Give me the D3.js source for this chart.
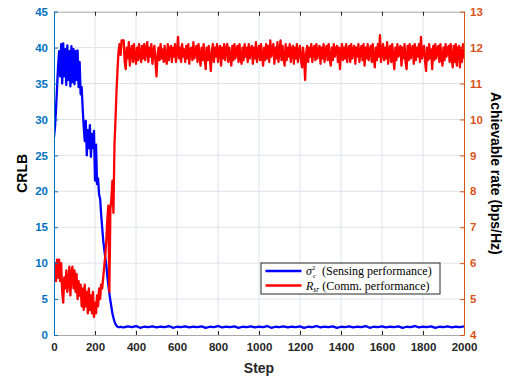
<!DOCTYPE html>
<html>
<head>
<meta charset="utf-8">
<script src="https://cdn.jsdelivr.net/npm/d3@7"></script>
<style>
  body { margin: 0; background: #fff; }
  svg { display: block; }
</style>
</head>
<body>
<div id="chart"></div>
<script>
// early part sampled every 5 steps (0..330)
const stepsEarly = d3.range(0, 331, 5);

// CRLB, left axis
const crlbEarly = [
  27.5, 29.0, 31.5, 34.5, 37.5, 39.5, 36.0, 40.5, 35.0, 40.6,
  36.0, 39.8, 34.8, 40.3, 35.5, 39.5, 34.6, 40.2, 35.2, 39.8,
  34.9, 39.5, 35.5, 39.6, 34.5, 38.0, 33.5, 34.5, 31.5, 29.0,
  27.0, 29.8, 25.0, 28.5, 26.0, 29.2, 24.8, 28.0, 26.0, 28.4,
  21.5, 26.5, 21.0, 21.8, 19.5, 19.0, 16.8, 15.0, 13.2, 12.0,
  10.8, 9.8, 8.2, 7.0, 5.8, 4.8, 3.9, 3.0, 2.4, 1.9,
  1.5, 1.3, 1.15, 1.1, 1.1, 1.15, 1.1
];
// flat part, every 20 steps (340..2000)
const crlbLate = [
  1.05, 1.2, 1.1, 1.25, 1.0, 1.15, 1.1, 1.2, 1.05, 1.15,
  1.1, 1.25, 1.0, 1.15, 1.1, 1.2, 1.05, 1.15, 1.1, 1.2,
  1.0, 1.15, 1.1, 1.25, 1.05, 1.15, 1.1, 1.2, 1.0, 1.15,
  1.1, 1.2, 1.05, 1.15, 1.1, 1.25, 1.0, 1.15, 1.1, 1.2,
  1.05, 1.15, 1.1, 1.2, 1.0, 1.15, 1.1, 1.25, 1.05, 1.15,
  1.1, 1.2, 1.0, 1.15, 1.1, 1.2, 1.05, 1.15, 1.1, 1.25,
  1.0, 1.15, 1.1, 1.2, 1.05, 1.15, 1.1, 1.2, 1.0, 1.15,
  1.1, 1.25, 1.05, 1.15, 1.1, 1.2, 1.0, 1.15, 1.1, 1.2,
  1.05, 1.15, 1.1, 1.2
];

// achievable rate, right axis
const rateEarly = [
  5.6, 6.0, 5.5, 6.1, 5.6, 6.1, 5.5, 6.0, 5.2, 4.9,
  5.6, 5.3, 5.8, 5.2, 5.5, 5.9, 5.1, 5.7, 5.9, 5.3,
  5.8, 5.2, 5.7, 5.0, 5.5, 5.1, 5.4, 4.8, 5.3, 4.7,
  5.4, 4.8, 5.2, 4.6, 5.3, 4.7, 5.1, 4.6, 5.2, 4.5,
  4.9, 4.6, 5.1, 4.8, 5.3, 5.0, 5.4, 5.3, 5.6, 5.9,
  6.2, 6.6, 7.2, 7.6, 5.2, 7.5, 7.8, 8.3, 7.4, 9.3,
  10.0, 10.8, 11.4, 11.9, 12.1, 11.8, 12.2
];
// steady part, every 5 steps (340..2000)
const rateLate = [
  12.2, 11.6, 11.4, 12.0, 11.7, 12.15, 11.5, 11.9, 12.05, 11.6, 12.1, 11.75, 11.55, 12.0, 11.65, 12.1, 11.8, 11.6, 12.05, 11.7,
  12.1, 11.65, 11.95, 12.15, 11.6, 12.0, 11.75, 12.1, 11.55, 11.9, 12.05, 11.6, 11.2, 11.8, 12.0, 11.65, 12.1, 11.7, 11.95, 11.6,
  12.05, 11.7, 11.55, 12.1, 11.65, 11.95, 12.05, 11.6, 12.0, 11.75, 12.1, 11.6, 11.9, 12.3, 11.7, 12.0, 11.6, 12.1, 11.75, 11.95,
  11.6, 12.05, 11.7, 12.1, 11.55, 11.95, 12.0, 11.65, 12.15, 11.7, 11.9, 12.05, 11.6, 12.1, 11.75, 11.5, 12.0, 11.65, 12.1, 11.7,
  11.4, 12.0, 11.65, 12.05, 11.7, 11.35, 11.9, 12.1, 11.6, 12.0, 11.75, 12.1, 11.6, 11.95, 12.05, 11.5, 12.0, 11.7, 12.1, 11.65,
  11.95, 12.1, 11.6, 12.0, 11.75, 11.5, 12.05, 11.65, 12.1, 11.7, 11.9, 12.05, 11.6, 12.1, 11.7, 11.55, 12.0, 11.65, 12.1, 11.75,
  12.0, 11.6, 12.1, 11.7, 11.95, 12.05, 11.55, 12.0, 11.7, 12.15, 11.6, 11.9, 12.05, 11.65, 12.1, 11.75, 11.5, 12.0, 11.65, 12.1,
  11.7, 12.05, 11.6, 12.2, 11.75, 11.95, 12.1, 11.55, 12.0, 11.7, 12.15, 11.6, 11.9, 12.2, 11.65, 12.05, 11.7, 11.5, 12.1, 11.65,
  12.0, 11.75, 12.1, 11.6, 11.95, 12.05, 11.55, 12.0, 11.7, 12.1, 11.6, 11.9, 12.05, 11.65, 11.45, 12.0, 11.7, 11.1, 11.85, 12.05,
  11.6, 12.0, 11.75, 12.1, 11.6, 11.95, 12.05, 11.65, 12.1, 11.7, 11.9, 12.05, 11.55, 12.0, 11.7, 12.1, 11.6, 11.95, 12.05, 11.65,
  12.1, 11.7, 11.5, 12.0, 11.65, 12.1, 11.75, 11.95, 12.05, 11.6, 12.0, 11.4, 11.9, 12.1, 11.65, 12.0, 11.7, 12.1, 11.6, 11.95,
  12.05, 11.6, 12.1, 11.7, 11.95, 12.05, 11.55, 12.0, 11.75, 12.1, 11.6, 11.9, 12.05, 11.65, 12.1, 11.5, 12.0, 11.7, 12.1, 11.65,
  11.95, 12.05, 11.6, 12.1, 11.7, 11.45, 12.0, 11.65, 12.1, 11.75, 12.35, 11.6, 11.95, 12.1, 11.65, 12.0, 11.7, 12.15, 11.55, 11.95,
  12.05, 11.6, 12.1, 11.7, 11.4, 12.0, 11.65, 12.1, 11.75, 11.95, 12.05, 11.5, 12.0, 11.7, 12.1, 11.6, 11.4, 12.05, 11.65, 12.1,
  11.7, 11.95, 12.05, 11.55, 12.1, 11.65, 12.0, 11.75, 12.1, 11.6, 12.3, 11.7, 11.95, 12.05, 11.6, 11.35, 12.0, 11.65, 12.1, 11.7,
  11.95, 11.4, 12.05, 11.65, 12.1, 11.7, 11.95, 12.05, 11.6, 12.1, 11.7, 11.5, 12.0, 11.65, 12.1, 11.75, 11.95, 12.05, 11.6, 12.1,
  11.7, 11.45, 12.05, 11.6, 12.1, 11.5, 11.95, 12.05, 11.45, 12.0, 11.6, 12.1, 11.7
];

const crlbPoints = stepsEarly.map((s, i) => [s, crlbEarly[i]])
    .concat(crlbLate.map((v, i) => [340 + 20 * i, v]));
const ratePoints = stepsEarly.map((s, i) => [s, rateEarly[i]])
    .concat(rateLate.map((v, i) => [340 + 5 * i, v]));

const xTicks = d3.range(0, 2001, 200);
const leftTicks = d3.range(0, 46, 5);
const rightTicks = d3.range(4, 14, 1);

const W = 514, H = 381;
const plotL = 54, plotR = 464, plotT = 11.7, plotB = 335;

const leftColor = '#0072BD';
const rightColor = '#D95319';
const axisGray = '#262626';

const svg = d3.select('#chart')
    .append('svg')
    .attr('width', W)
    .attr('height', H);

const xScale = d3.scaleLinear().domain([0, 2000]).range([plotL, plotR]);
const yLeft = d3.scaleLinear().domain([0, 45]).range([plotB, plotT]);
const yRight = d3.scaleLinear().domain([4, 13]).range([plotB, plotT]);

// grid
const grid = svg.append('g');
grid.selectAll('line.gx')
    .data(xTicks.slice(1, -1))
    .join('line')
    .attr('x1', d => xScale(d)).attr('x2', d => xScale(d))
    .attr('y1', plotT).attr('y2', plotB)
    .attr('stroke', '#dde3ea').attr('stroke-width', 1);
grid.selectAll('line.gy')
    .data(leftTicks.slice(1, -1))
    .join('line')
    .attr('x1', plotL).attr('x2', plotR)
    .attr('y1', d => yLeft(d)).attr('y2', d => yLeft(d))
    .attr('stroke', '#dde3ea').attr('stroke-width', 1);

// lines
svg.append('clipPath').attr('id', 'plot')
    .append('rect')
    .attr('x', plotL).attr('y', plotT)
    .attr('width', plotR - plotL).attr('height', plotB - plotT);

const crlbLine = d3.line()
    .x(d => xScale(d[0]))
    .y(d => yLeft(d[1]));
const rateLine = d3.line()
    .x(d => xScale(d[0]))
    .y(d => yRight(d[1]));

svg.append('path')
    .datum(crlbPoints)
    .attr('clip-path', 'url(#plot)')
    .attr('fill', 'none')
    .attr('stroke', '#0000FF')
    .attr('stroke-width', 2.3)
    .attr('stroke-linejoin', 'round')
    .attr('d', crlbLine);

svg.append('path')
    .datum(ratePoints)
    .attr('clip-path', 'url(#plot)')
    .attr('fill', 'none')
    .attr('stroke', '#FF0000')
    .attr('stroke-width', 2.3)
    .attr('stroke-linejoin', 'round')
    .attr('d', rateLine);

// axes
const tickFont = '"Liberation Sans", Arial, sans-serif';

function styleAxis(g, color) {
    g.select('.domain').attr('stroke', color);
    g.selectAll('.tick line').attr('stroke', color);
    g.selectAll('.tick text')
        .attr('fill', color)
        .attr('font-family', tickFont)
        .attr('font-weight', 'bold')
        .attr('font-size', '11.5px');
}

const xAxis = svg.append('g')
    .attr('transform', `translate(0,${plotB})`)
    .call(d3.axisBottom(xScale).tickValues(xTicks).tickFormat(d3.format('d'))
        .tickSizeInner(-4).tickSizeOuter(0).tickPadding(8));
styleAxis(xAxis, axisGray);
xAxis.select('.domain').attr('stroke', '#a8a8a8');

const xTop = svg.append('g')
    .attr('transform', `translate(0,${plotT})`)
    .call(d3.axisTop(xScale).tickValues(xTicks).tickSizeInner(-4).tickSizeOuter(0).tickFormat(''));
styleAxis(xTop, axisGray);
xTop.select('.domain').attr('stroke', '#a8a8a8');

const yAxisL = svg.append('g')
    .attr('transform', `translate(${plotL},0)`)
    .call(d3.axisLeft(yLeft).tickValues(leftTicks).tickSizeInner(-4).tickSizeOuter(0).tickPadding(6));
styleAxis(yAxisL, leftColor);

const yAxisR = svg.append('g')
    .attr('transform', `translate(${plotR},0)`)
    .call(d3.axisRight(yRight).tickValues(rightTicks).tickSizeInner(-4).tickSizeOuter(0).tickPadding(6));
styleAxis(yAxisR, rightColor);

// axis titles
svg.append('text')
    .attr('transform', `translate(22,${(plotT + plotB) / 2}) rotate(-90)`)
    .attr('text-anchor', 'middle')
    .attr('dy', '0.35em')
    .attr('font-family', tickFont)
    .attr('font-weight', 'bold')
    .attr('font-size', '14px')
    .attr('fill', '#000')
    .text('CRLB');

svg.append('text')
    .attr('transform', `translate(496,${(plotT + plotB) / 2}) rotate(90)`)
    .attr('text-anchor', 'middle')
    .attr('dy', '0.35em')
    .attr('font-family', tickFont)
    .attr('font-weight', 'bold')
    .attr('font-size', '14px')
    .attr('fill', '#000')
    .text('Achievable rate (bps/Hz)');

svg.append('text')
    .attr('x', (plotL + plotR) / 2)
    .attr('y', 368)
    .attr('text-anchor', 'middle')
    .attr('dy', '0.35em')
    .attr('font-family', tickFont)
    .attr('font-weight', 'bold')
    .attr('font-size', '14px')
    .attr('fill', axisGray)
    .text('Step');

// legend
const legend = svg.append('g').attr('transform', 'translate(261,263)');
legend.append('rect')
    .attr('width', 179).attr('height', 31)
    .attr('fill', '#fff')
    .attr('stroke', axisGray)
    .attr('stroke-width', 1);

const serif = '"Liberation Serif", "Times New Roman", serif';
const rows = [
    { color: '#0000FF', y: 8 },
    { color: '#FF0000', y: 22.5 }
];
legend.selectAll('line.key')
    .data(rows)
    .join('line')
    .attr('x1', 4.5).attr('x2', 40.5)
    .attr('y1', d => d.y).attr('y2', d => d.y)
    .attr('stroke', d => d.color)
    .attr('stroke-width', 2.6);

// sigma with superscript 2 and subscript c
const sig = legend.append('text')
    .attr('x', 45).attr('y', 8).attr('dy', '0.35em')
    .attr('font-family', serif).attr('font-size', '12px').attr('fill', '#000');
sig.append('tspan').attr('font-style', 'italic').text('σ');
sig.append('tspan').attr('font-size', '6.5px').attr('dy', '-5.5').text('2');
legend.append('text')
    .attr('x', 52).attr('y', 15)
    .attr('font-family', serif).attr('font-size', '6.5px').attr('font-style', 'italic')
    .attr('fill', '#000')
    .text('c');
legend.append('text')
    .attr('x', 61).attr('y', 8).attr('dy', '0.35em')
    .attr('font-family', serif).attr('font-size', '12px').attr('fill', '#000')
    .text('(Sensing performance)');

const t2 = legend.append('text')
    .attr('x', 45).attr('y', 22.5).attr('dy', '0.35em')
    .attr('font-family', serif).attr('font-size', '12px').attr('fill', '#000');
t2.append('tspan').attr('font-style', 'italic').text('R');
t2.append('tspan').attr('font-size', '7.5px').attr('font-style', 'italic').attr('dy', '2.5').text('sr');
t2.append('tspan').attr('dy', '-2.5').attr('dx', '3').text('(Comm. performance)');
</script>
</body>
</html>
